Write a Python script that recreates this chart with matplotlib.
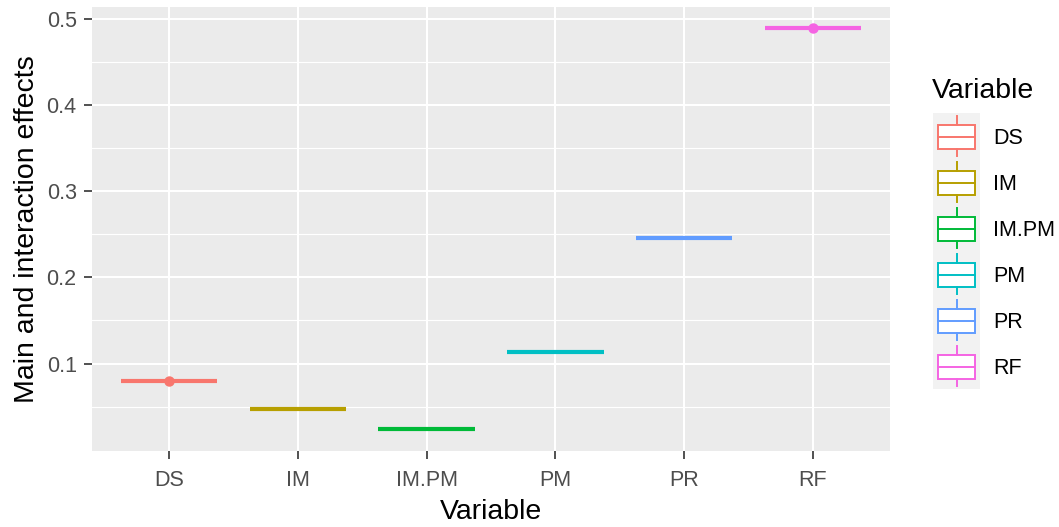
import matplotlib
matplotlib.use("Agg")
import matplotlib.pyplot as plt
from matplotlib.patches import Rectangle

# effect per variable (boxes collapse to a single line)
variables = ["DS", "IM", "IM.PM", "PM", "PR", "RF"]
effects = [0.0803, 0.0468, 0.0237, 0.1140, 0.2462, 0.4898]
# variables whose box shows an outlier dot at the same level
outliers = {"DS": 0.0803, "RF": 0.4898}
colors = ["#F8766D", "#B79F00", "#00BA38", "#00BFC4", "#619CFF", "#F564E3"]
y_ticks = [0.1, 0.2, 0.3, 0.4, 0.5]

W, H = 1059, 527
plt.rcParams["font.family"] = ["Liberation Sans", "DejaVu Sans"]

fig = plt.figure(figsize=(W / 100, H / 100), dpi=100)
px = lambda x0, y0, x1, y1: [x0 / W, 1 - y1 / H, (x1 - x0) / W, (y1 - y0) / H]

ax = fig.add_axes(px(92, 7, 890, 451))
ax.set_facecolor("#EBEBEB")
for s in ax.spines.values():
    s.set_visible(False)

xs = range(1, len(variables) + 1)
for x, v, c, name in zip(xs, effects, colors, variables):
    ax.hlines(v, x - 0.375, x + 0.375, color=c, lw=3.0, zorder=3)
    if name in outliers:
        ax.plot(x, outliers[name], "o", color=c, ms=6.5, zorder=4)

ax.set_xlim(0.4, len(variables) + 0.6)
ax.set_ylim(-0.0014, 0.5137)
ax.set_xticks(list(xs))
ax.set_xticklabels(variables)
ax.set_yticks(y_ticks)
ax.set_yticklabels([f"{t:.1f}" for t in y_ticks])
ax.set_yticks([0.05, 0.15, 0.25, 0.35, 0.45], minor=True)
ax.grid(True, which="major", color="white", lw=1.5, zorder=0)
ax.grid(True, which="minor", axis="y", color="white", lw=0.8, zorder=0)
ax.set_axisbelow(True)
ax.tick_params(which="major", length=5.5, color="#333333", width=1.2,
               labelsize=15.5, labelcolor="#4D4D4D")
ax.tick_params(axis="x", pad=8)
ax.tick_params(axis="y", pad=5.5)
ax.tick_params(which="minor", length=0)
ax.set_xlabel("Variable", fontsize=20.5, labelpad=6)
ax.set_ylabel("Main and interaction effects", fontsize=20.5, labelpad=5)

# legend drawn by hand in pixel space
lg = fig.add_axes([0, 0, 1, 1], facecolor="none")
lg.set_xlim(0, W)
lg.set_ylim(H, 0)
lg.axis("off")
lg.text(932, 91, "Variable", fontsize=20.5, va="center", ha="left")
top = 113
key_h = 46
lg.add_patch(Rectangle((933, top), 47, key_h * len(variables),
                       facecolor="#F2F2F2", edgecolor="none"))
for i, (name, c) in enumerate(zip(variables, colors)):
    y0 = top + i * key_h
    cx = 956.5
    lg.add_patch(Rectangle((938, y0 + 12), 37, 24, facecolor="white",
                           edgecolor=c, lw=1.4))
    lg.plot([938, 975], [y0 + 24, y0 + 24], color=c, lw=1.4)
    lg.plot([cx, cx], [y0 + 3, y0 + 12], color=c, lw=1.4)
    lg.plot([cx, cx], [y0 + 36, y0 + 43], color=c, lw=1.4)
    lg.text(993, y0 + 25, name, fontsize=15.5, va="center", ha="left")

fig.savefig("out.png", dpi=100, facecolor="white")
